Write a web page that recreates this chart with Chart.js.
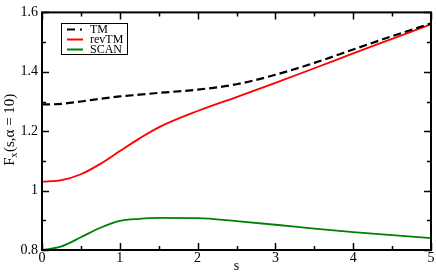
<!DOCTYPE html>
<html>
<head>
<meta charset="utf-8">
<script src="https://cdn.jsdelivr.net/npm/chart.js@4.4.1/dist/chart.umd.min.js"></script>
<style>
  html, body { margin: 0; padding: 0; background: #fff; }
  #wrap { width: 436px; height: 273px; }
</style>
</head>
<body>
<div id="wrap"><canvas id="chart"></canvas></div>
<script>
// values
const sValues = [0, 0.25, 0.5, 0.75, 1, 1.25, 1.5, 2, 2.5, 3, 3.5, 4, 4.5, 5];
const tmValues = [1.290, 1.292, 1.300, 1.309, 1.317, 1.323, 1.329, 1.340, 1.358, 1.390, 1.430, 1.475, 1.520, 1.563];
const revTmValues = [1.030, 1.035, 1.055, 1.090, 1.133, 1.175, 1.213, 1.268, 1.315, 1.363, 1.412, 1.462, 1.511, 1.560];
const scanValues = [0.800, 0.812, 0.843, 0.875, 0.898, 0.905, 0.908, 0.907, 0.897, 0.885, 0.872, 0.860, 0.850, 0.840];
const seriesNames = ['TM', 'revTM', 'SCAN'];
const seriesColors = ['#000000', '#ff0000', '#008000'];

function toPoints(vals) {
  return sValues.map((s, i) => ({ x: s, y: vals[i] }));
}

const serif = "'Liberation Serif', 'Times New Roman', serif";

// inward ticks, frame, y title with subscript, legend box
const decorations = {
  id: 'decorations',
  afterDatasetsDraw(chart) {
    const { ctx, chartArea: a, scales } = chart;
    const xs = scales.x, ys = scales.y;
    ctx.save();
    ctx.strokeStyle = '#000';
    ctx.lineWidth = 1.5;
    ctx.beginPath();
    xs.ticks.forEach(t => {
      const px = Math.round(xs.getPixelForValue(t.value)) + 0.5;
      const len = Math.abs(t.value - Math.round(t.value)) < 1e-6 ? 7 : 4;
      ctx.moveTo(px, a.bottom); ctx.lineTo(px, a.bottom - len);
      ctx.moveTo(px, a.top); ctx.lineTo(px, a.top + len);
    });
    ys.ticks.forEach(t => {
      const py = Math.round(ys.getPixelForValue(t.value)) + 0.5;
      const len = Math.abs(t.value * 5 - Math.round(t.value * 5)) < 1e-6 ? 7 : 4;
      ctx.moveTo(a.left, py); ctx.lineTo(a.left + len, py);
      ctx.moveTo(a.right, py); ctx.lineTo(a.right - len, py);
    });
    ctx.stroke();
    ctx.lineWidth = 2;
    ctx.strokeRect(a.left, a.top, a.right - a.left, a.bottom - a.top);

    // y axis title
    ctx.save();
    ctx.translate(13.5, 130);
    ctx.rotate(-Math.PI / 2);
    ctx.fillStyle = '#000';
    ctx.textBaseline = 'alphabetic';
    ctx.textAlign = 'left';
    const big = '15px ' + serif, small = '10px ' + serif;
    const p1 = 'F', p2 = 'x', p3 = '(s,\u03b1 = 10)';
    ctx.font = big; const w1 = ctx.measureText(p1).width, w3 = ctx.measureText(p3).width;
    ctx.font = small; const w2 = ctx.measureText(p2).width;
    let x0 = -(w1 + w2 + w3) / 2;
    ctx.font = big; ctx.fillText(p1, x0, 0);
    ctx.font = small; ctx.fillText(p2, x0 + w1, 3);
    ctx.font = big; ctx.fillText(p3, x0 + w1 + w2 + 0.5, 0);
    ctx.restore();

    // legend
    ctx.lineWidth = 1;
    ctx.strokeRect(61.5, 23.5, 66, 31);
    ctx.font = '12px ' + serif;
    ctx.textBaseline = 'middle';
    ctx.fillStyle = '#000';
    const rows = [29.5, 39.5, 49.5];
    chart.data.datasets.forEach((ds, i) => {
      ctx.beginPath();
      ctx.strokeStyle = ds.borderColor;
      ctx.lineWidth = 2;
      ctx.setLineDash(i === 0 ? [8, 5, 2, 50] : []);
      ctx.moveTo(67, rows[i]); ctx.lineTo(83, rows[i]);
      ctx.stroke();
      ctx.setLineDash([]);
      ctx.fillText(ds.label, 90, rows[i] + 0.5);
    });
    ctx.restore();
  }
};

new Chart(document.getElementById('chart'), {
  type: 'line',
  data: {
    datasets: [
      { label: seriesNames[0], data: toPoints(tmValues), borderColor: seriesColors[0], borderWidth: 2.2, borderDash: [8, 4] },
      { label: seriesNames[1], data: toPoints(revTmValues), borderColor: seriesColors[1], borderWidth: 1.8 },
      { label: seriesNames[2], data: toPoints(scanValues), borderColor: seriesColors[2], borderWidth: 1.8 }
    ]
  },
  options: {
    responsive: true,
    maintainAspectRatio: false,
    animation: false,
    devicePixelRatio: 1,
    layout: { autoPadding: false, padding: { top: 5, right: 5, left: 0, bottom: 0 } },
    elements: {
      point: { radius: 0 },
      line: { cubicInterpolationMode: 'monotone', fill: false }
    },
    plugins: { legend: { display: false }, tooltip: { enabled: false } },
    scales: {
      x: {
        type: 'linear', min: 0, max: 5,
        afterFit(scale) { scale.height = 23; },
        grid: { display: false, drawTicks: false },
        border: { display: false },
        ticks: {
          stepSize: 0.5, padding: 0, color: '#000', maxRotation: 0, autoSkip: false,
          font: { family: serif, size: 14 },
          callback: v => (Math.abs(v - Math.round(v)) < 1e-6 ? String(Math.round(v)) : '')
        },
        title: { display: true, text: 's', color: '#000', padding: 0, font: { family: serif, size: 14, lineHeight: 1 } }
      },
      y: {
        min: 0.8, max: 1.6,
        afterFit(scale) { scale.width = 42; },
        grid: { display: false, drawTicks: false },
        border: { display: false },
        ticks: {
          stepSize: 0.1, padding: 4, color: '#000', autoSkip: false,
          font: { family: serif, size: 14 },
          callback: v => (Math.abs(v * 5 - Math.round(v * 5)) < 1e-6 ? String(Math.round(v * 5) / 5) : '')
        }
      }
    }
  },
  plugins: [decorations]
});
</script>
</body>
</html>
